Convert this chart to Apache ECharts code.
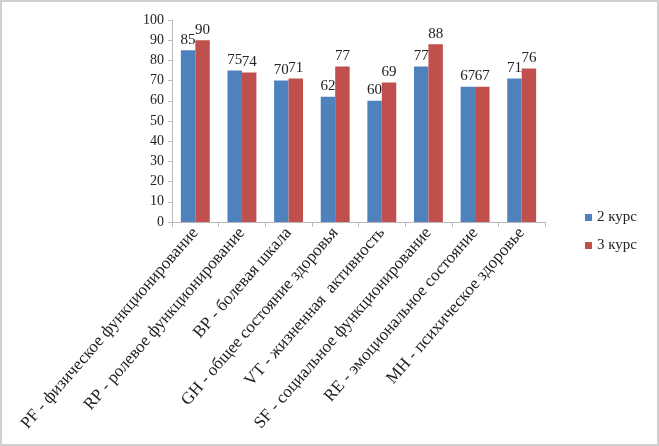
<!DOCTYPE html>
<html>
<head>
<meta charset="utf-8">
<script src="https://cdn.jsdelivr.net/npm/echarts@6/dist/echarts.min.js"></script>
<style>
  html, body { margin: 0; padding: 0; background: #fff; }
  #chart { width: 655px; height: 442px; border: 2px solid #d0d0d0; }
</style>
</head>
<body>
<div id="chart"></div>
<script>
// категории шкал SF-36
const categories = [
  'PF - физическое функционирование',
  'RP - ролевое функционирование',
  'BP - болевая шкала',
  'GH - общее состояние здоровья',
  'VT - жизненная  активность',
  'SF - социальное функционирование',
  'RE - эмоциональное состояние',
  'MH - психическое здоровье'
]
const course2 = [85, 75, 70, 62, 60, 77, 67, 71]
const course3 = [90, 74, 71, 77, 69, 88, 67, 76]
const seriesNames = ['2 курс', '3 курс']

const chart = echarts.init(document.getElementById('chart'))
const font = 'Liberation Serif'
const labelStyle = {
  show: true,
  position: 'top',
  distance: 3,
  color: '#222',
  fontFamily: font,
  fontSize: 15
}

chart.setOption({
  animation: false,
  color: ['#4F81BD', '#C0504D'],
  legend: {
    orient: 'vertical',
    left: 578,
    top: 203,
    itemWidth: 7,
    itemHeight: 7,
    itemGap: 13,
    icon: 'rect',
    textStyle: { fontFamily: font, fontSize: 15, color: '#222' },
    data: seriesNames
  },
  grid: {
    left: 170,
    top: 18,
    right: 112,
    bottom: 222
  },
  xAxis: {
    type: 'category',
    data: categories,
    axisLine: { lineStyle: { color: '#bbb' } },
    axisTick: { show: true, lineStyle: { color: '#bbb' } },
    axisLabel: {
      rotate: 49,
      interval: 0,
      margin: 8,
      fontFamily: font,
      fontSize: 17,
      color: '#222'
    }
  },
  yAxis: {
    type: 'value',
    min: 0,
    max: 100,
    interval: 10,
    splitLine: { show: false },
    axisLine: { show: true, lineStyle: { color: '#bbb' } },
    axisTick: { show: true, length: 4, lineStyle: { color: '#bbb' } },
    axisLabel: { fontFamily: font, fontSize: 14, color: '#222', margin: 8 }
  },
  series: [
    {
      name: seriesNames[0],
      type: 'bar',
      data: course2,
      barGap: '0%',
      barCategoryGap: '38%',
      label: labelStyle
    },
    {
      name: seriesNames[1],
      type: 'bar',
      data: course3,
      label: labelStyle
    }
  ]
})
</script>
</body>
</html>
